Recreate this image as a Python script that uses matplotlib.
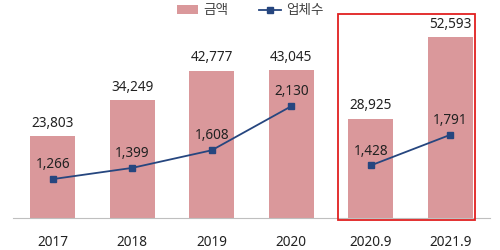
import matplotlib
matplotlib.use("Agg")
import matplotlib.pyplot as plt
from matplotlib.patches import Rectangle

plt.rcParams['font.family'] = ['Noto Sans', 'Noto Sans CJK KR', 'DejaVu Sans']

categories = ['2017', '2018', '2019', '2020', '2020.9', '2021.9']
amount = [23803, 34249, 42777, 43045, 28925, 52593]
companies = [1266, 1399, 1608, 2130, 1428, 1791]
bar_label = '금액'
line_label = '업체수'

bar_color = '#DA989B'
line_color = '#26467F'
text_color = '#222222'
fs = 9.8

fig = plt.figure(figsize=(5, 2.5), dpi=100)
ax = fig.add_axes([0.026, 0.128, 0.954, 0.852])
ax2 = ax.twinx()

x = list(range(len(categories)))
bars = ax.bar(x, amount, width=0.56, color=bar_color, label=bar_label, zorder=2)
ax.set_ylim(0, 62000)
ax.set_xlim(-0.5, len(categories) - 0.5)

for xi, v in zip(x, amount):
    ax.annotate(f'{v:,}', (xi, v), xytext=(0, 4), textcoords='offset points',
                ha='center', va='bottom', fontsize=fs, color=text_color)

seg1 = slice(0, 4)
seg2 = slice(4, 6)
ln, = ax2.plot(x[seg1], companies[seg1], color=line_color, lw=1.3, marker='s',
               ms=4.5, label=line_label, zorder=3)
ax2.plot(x[seg2], companies[seg2], color=line_color, lw=1.3, marker='s',
         ms=4.5, zorder=3)
ax2.set_ylim(805, 3330)

for xi, v in zip(x, companies):
    ax2.annotate(f'{v:,}', (xi, v), xytext=(0, 5), textcoords='offset points',
                 ha='center', va='bottom', fontsize=fs, color=text_color)

for a in (ax, ax2):
    for s in ('top', 'right', 'left'):
        a.spines[s].set_visible(False)
    a.set_yticks([])
ax2.spines['bottom'].set_visible(False)
ax.spines['bottom'].set_color('#BFBFBF')
ax.set_xticks(x)
ax.set_xticklabels(categories, fontsize=fs, color=text_color)
ax.tick_params(axis='x', length=0, pad=12)

# highlight box around the last two categories
rect = Rectangle((3.59, -0.01), 1.72, 0.97, transform=ax.get_xaxis_transform(),
                 fill=False, edgecolor='#E02020', lw=1.3, zorder=5, clip_on=False)
ax.add_patch(rect)

fig.legend([bars, ln], [bar_label, line_label], loc='upper center',
           bbox_to_anchor=(0.5, 1.035), ncol=2, frameon=False, fontsize=fs,
           handlelength=1.6, columnspacing=2.2, handletextpad=0.4,
           labelcolor='#444444')

fig.savefig('out.png', dpi=100)
